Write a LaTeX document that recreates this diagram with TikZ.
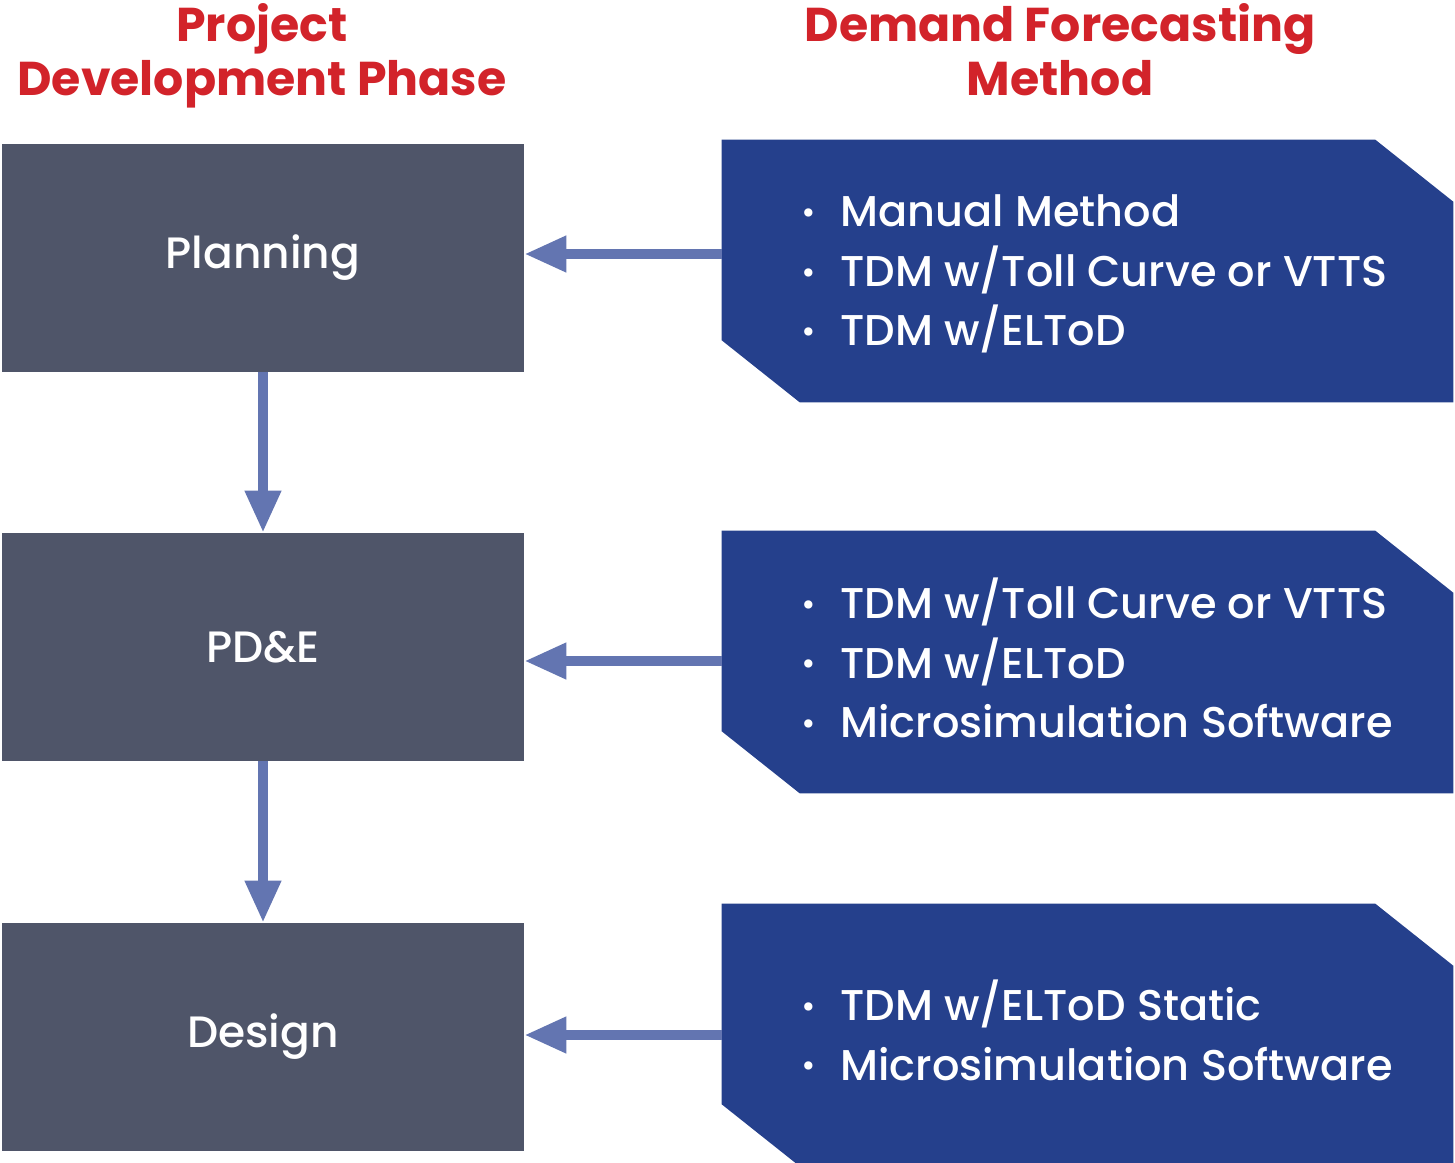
\documentclass[tikz,border=0pt]{standalone}
\usepackage{fontspec}
\setmainfont{Poppins}[UprightFont=* Medium, BoldFont=* Bold]
\usetikzlibrary{arrows.meta,calc}
\definecolor{phasegray}{HTML}{4F5569}
\definecolor{methodblue}{HTML}{25408C}
\definecolor{linkblue}{HTML}{6375B1}
\definecolor{headred}{HTML}{D2232A}
% bullet in front of each method
\newcommand{\itm}{\makebox[0.78cm][l]{\fontsize{18}{18}\selectfont\raisebox{0.1em}{•}}}
% blue box with two cut corners
\newcommand{\methodshape}[1]{%
  \fill[methodblue] (#1.north west) -- ($(#1.north east)+(-78,0)$)
    -- ($(#1.north east)+(0,62)$) -- (#1.south east)
    -- ($(#1.south west)+(78,0)$) -- ($(#1.south west)+(0,-62)$) -- cycle;}
\begin{document}
\begin{tikzpicture}[
        x=0.02cm, y=-0.02cm,
        link/.style={draw=linkblue, line width=5.7pt, -{Triangle[length=0.84cm, width=0.68cm]}}
    ]
    \tikzset{
        heading/.style = {text=headred, align=center, font=\bfseries\fontsize{27}{30.7}\selectfont, inner sep=0pt},
        phasebox/.style = {rectangle, fill=phasegray, text=white, minimum width=10.44cm, minimum height=4.56cm, font=\fontsize{25}{28}\selectfont},
        methodbox/.style = {rectangle, inner sep=0pt, minimum width=14.62cm, minimum height=5.24cm},
        methodtext/.style = {anchor=west, inner sep=0pt, text=white, align=left, font=\fontsize{24.5}{34}\selectfont},
    }
    \useasboundingbox (0,0) rectangle (1455,1163);
    % column headings
    \node[heading] (hphase) at (262,56) {Project\\Development Phase};
    \node[heading] (hmethod) at (1060,50) {Demand Forecasting\\Method};
    % project phases
    \node[phasebox] (plan) at (263,258) {Planning};
    \node[phasebox] (pde) at (263,647) {PD\&E};
    \node[phasebox] (design) at (263,1037) {Design};
    % forecasting methods
    \node[methodbox] (m1) at (1087.5,271) {};
    \node[methodbox] (m2) at (1087.5,662) {};
    \node[methodbox] (m3) at (1087.5,1035) {};
    \methodshape{m1}
    \methodshape{m2}
    \methodshape{m3}
    \node[methodtext] (t1) at (801,274) {\itm Manual Method\\\itm TDM w/Toll Curve or VTTS\\\itm TDM w/ELToD};
    \node[methodtext] (t2) at (801,658) {\itm TDM w/Toll Curve or VTTS\\\itm TDM w/ELToD\\\itm Microsimulation Software};
    \node[methodtext] (t3) at (801,1030) {\itm TDM w/ELToD Static\\\itm Microsimulation Software};
    % arrow starts on the blue boxes
    \coordinate (a1) at (722,254);
    \coordinate (a2) at (722,661);
    \coordinate (a3) at (722,1035);
    % connectors
    \draw[link] (plan.south) -- (pde.north);
    \draw[link] (pde.south) -- (design.north);
    \draw[link] (a1) -- (a1 -| plan.east);
    \draw[link] (a2) -- (a2 -| pde.east);
    \draw[link] (a3) -- (a3 -| design.east);
\end{tikzpicture}
\end{document}
